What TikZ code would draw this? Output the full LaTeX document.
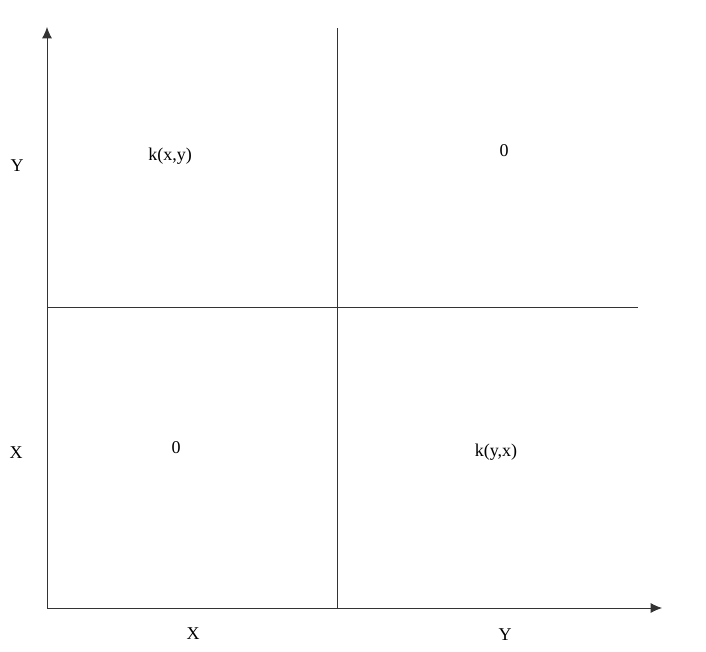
\documentclass[tikz,border=0pt]{standalone}
\usepackage{fontspec}
\setmainfont{Liberation Serif}
\usetikzlibrary{arrows.meta}
\begin{document}
\begin{tikzpicture}[x=0.75pt,y=-0.75pt,
  axis/.style={line width=0.65pt,draw=black!80,-{Latex[length=8.5pt,width=7.5pt]}},
  divider/.style={line width=0.65pt,draw=black!80},
  lbl/.style={font=\fontsize{13.5}{15}\selectfont,inner sep=0pt}]
\useasboundingbox (0,0) rectangle (706,651);
\coordinate (o) at (47,608);
\coordinate (ytip) at (47,27);
\coordinate (xtip) at (662,608);
\coordinate (vtop) at (337,28);
\coordinate (vbot) at (337,608);
\coordinate (hl) at (47,307);
\coordinate (hr) at (638,307);
\draw[axis] (o) -- (ytip);
\draw[axis] (o) -- (xtip);
\draw[divider] (vtop) -- (vbot);
\draw[divider] (hl) -- (hr);
\node[lbl] (ly) at (17,166) {Y};
\node[lbl] (lx) at (16,453) {X};
\node[lbl] (bx) at (193,634) {X};
\node[lbl] (by) at (505,635) {Y};
\node[lbl] (kxy) at (170,156) {k(x,y)};
\node[lbl] (z1) at (504,151) {0};
\node[lbl] (z2) at (176,448) {0};
\node[lbl] (kyx) at (496,452) {k(y,x)};
\end{tikzpicture}
\end{document}
